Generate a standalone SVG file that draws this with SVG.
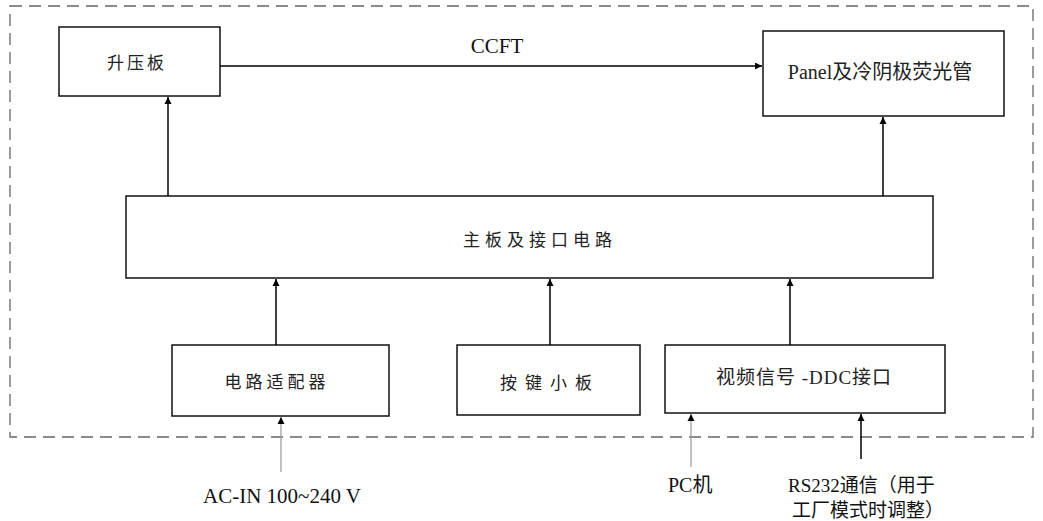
<svg xmlns="http://www.w3.org/2000/svg" width="1043" height="521" viewBox="0 0 1043 521">
<defs>
<marker id="ah" viewBox="0 0 10 10" refX="10" refY="5" markerWidth="7" markerHeight="14" markerUnits="userSpaceOnUse" orient="auto"><path d="M0,0 L10,5 L0,10 z" fill="#000"/></marker>
<marker id="ahh" viewBox="0 0 10 10" refX="10" refY="5" markerWidth="14" markerHeight="7" markerUnits="userSpaceOnUse" orient="auto"><path d="M0,0 L10,5 L0,10 z" fill="#000"/></marker>
<style>
.box{fill:#fff;stroke:#111;stroke-width:1.5}
.t{font-family:"Liberation Serif","Noto Sans CJK SC",serif;font-size:17px;fill:#222;text-anchor:middle}
.l{font-family:"Liberation Serif","Noto Sans CJK SC",serif;font-size:20px;fill:#111}
.c{stroke:#000;stroke-width:1.5;fill:none}
.g{stroke:#999;stroke-width:1.2;fill:none}
</style>
</defs>
<rect x="10" y="6" width="1023" height="431" fill="none" stroke="#666" stroke-width="1.3" stroke-dasharray="12,7"/>
<g id="boost"><rect class="box" x="59" y="27" width="161" height="69"/><text class="t" x="137" y="69" letter-spacing="3">升压板</text></g>
<g id="panel"><rect class="box" x="763" y="31" width="241" height="85"/><text class="t" x="880" y="79" style="font-size:20px">Panel及冷阴极荧光管</text></g>
<g id="main"><rect class="box" x="126" y="196" width="807" height="82"/><text class="t" x="540" y="246" letter-spacing="5">主板及接口电路</text></g>
<g id="adapter"><rect class="box" x="172" y="345" width="217" height="71"/><text class="t" x="277" y="388" letter-spacing="4">电路适配器</text></g>
<g id="keys"><rect class="box" x="457" y="345" width="183" height="70"/><text class="t" x="550" y="389" letter-spacing="8">按键小板</text></g>
<g id="video"><rect class="box" x="665" y="345" width="280" height="68"/><text class="t" x="804" y="384" style="font-size:19px" letter-spacing="1">视频信号 -DDC接口</text></g>
<g id="connectors">
<line class="c" x1="220" y1="66" x2="762" y2="66" marker-end="url(#ahh)"/>
<line class="c" x1="168" y1="196" x2="168" y2="97" marker-end="url(#ah)"/>
<line class="c" x1="883" y1="196" x2="883" y2="117" marker-end="url(#ah)"/>
<line class="c" x1="276" y1="345" x2="276" y2="279" marker-end="url(#ah)"/>
<line class="c" x1="550" y1="345" x2="550" y2="279" marker-end="url(#ah)"/>
<line class="c" x1="790" y1="345" x2="790" y2="279" marker-end="url(#ah)"/>
<line class="g" x1="281" y1="472" x2="281" y2="417" marker-end="url(#ah)"/>
<line class="g" x1="691" y1="467" x2="691" y2="414" marker-end="url(#ah)"/>
<line class="c" x1="861" y1="459" x2="861" y2="414" marker-end="url(#ah)"/>
</g>
<text class="l" x="497" y="53" text-anchor="middle" style="font-size:21px">CCFT</text>
<text class="l" x="203" y="503" style="font-size:21px">AC-IN 100~240 V</text>
<text class="l" x="668" y="492">PC机</text>
<text class="l" x="788" y="492" style="font-size:19px">RS232通信（用于</text>
<text class="l" x="792" y="517" style="font-size:19px">工厂模式时调整）</text>
</svg>
